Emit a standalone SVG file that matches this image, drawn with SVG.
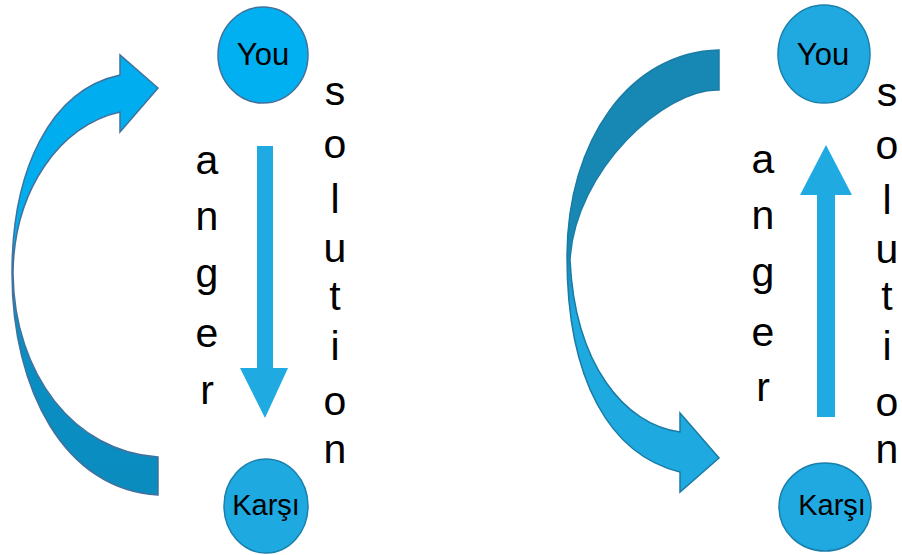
<svg xmlns="http://www.w3.org/2000/svg" width="902" height="555" viewBox="0 0 902 555">
  <style>
    .lbl { font-family: "Liberation Sans", Arial, sans-serif; fill: #000; text-anchor: middle; }
    .big { font-size: 41px; }
    .you { font-size: 31px; }
    .karsi { font-size: 29px; }
    .straight { fill: #1FABE2; stroke: none; }
  </style>
  <defs>
    <linearGradient id="gLeft" gradientUnits="userSpaceOnUse" x1="0" y1="55" x2="0" y2="495">
      <stop offset="0.45" stop-color="#00AEEF"/>
      <stop offset="0.6" stop-color="#0A8FC3"/>
      <stop offset="1" stop-color="#0A8CBF"/>
    </linearGradient>
    <linearGradient id="gRight" gradientUnits="userSpaceOnUse" x1="0" y1="50" x2="0" y2="492">
      <stop offset="0" stop-color="#1788B4"/>
      <stop offset="0.46" stop-color="#1788B4"/>
      <stop offset="0.6" stop-color="#1EA9DF"/>
      <stop offset="1" stop-color="#1EAAE0"/>
    </linearGradient>
  </defs>

  <g id="connectors">
    <path id="curve-left" d="M158,495 L158,457 C75,452 14,375 13,273 C14,190 60,125 120,112 L120,132 L158,88 L120,55 L120,75 C50,90 12,170 12,273 C12,390 65,490 158,495 Z" fill="url(#gLeft)" stroke="#41719C" stroke-width="1.5" stroke-linejoin="miter"/>
    <path id="curve-right" d="M719,50 L719,90 C665,88 575,170 570,260 C575,365 625,425 680,432 L680,413 L719,458 L680,492 L680,472 C610,455 567,380 567,257 C567,140 630,52 719,50 Z" fill="url(#gRight)" stroke="#1A7BA5" stroke-width="1.5"/>
    <path id="down-arrow" class="straight" d="M257,146 L273,146 L273,368 L288,368 L265,418 L240,368 L257,368 Z"/>
    <path id="up-arrow" class="straight" d="M817,417 L835,417 L835,195 L852,195 L826,145 L800,195 L817,195 Z"/>
  </g>

  <g id="you-left">
    <ellipse cx="263" cy="55" rx="45" ry="48" fill="#00B0F0" stroke="#41719C" stroke-width="1.5"/>
    <text class="lbl you" x="263" y="65">You</text>
  </g>
  <g id="karsi-left">
    <ellipse cx="266" cy="506" rx="42" ry="47" fill="#1FA9E1" stroke="#1A80AC" stroke-width="1.5"/>
    <text class="lbl karsi" x="266" y="515">Karşı</text>
  </g>
  <g id="you-right">
    <ellipse cx="824" cy="54" rx="46" ry="49" fill="#1FA9E0" stroke="#1A80AC" stroke-width="1.5"/>
    <text class="lbl you" x="823" y="65">You</text>
  </g>
  <g id="karsi-right">
    <ellipse cx="825" cy="507" rx="46" ry="44" fill="#1FA9E0" stroke="#1A80AC" stroke-width="1.5"/>
    <text class="lbl karsi" x="832" y="515">Karşı</text>
  </g>

  <g id="labels">
    <text class="lbl big"><tspan x="207" y="174">a</tspan><tspan x="207" y="230">n</tspan><tspan x="207" y="287">g</tspan><tspan x="207" y="347">e</tspan><tspan x="207" y="404">r</tspan></text>
    <text class="lbl big"><tspan x="335" y="105">s</tspan><tspan x="335" y="158">o</tspan><tspan x="335" y="213">l</tspan><tspan x="335" y="262">u</tspan><tspan x="335" y="310">t</tspan><tspan x="335" y="360">i</tspan><tspan x="335" y="415">o</tspan><tspan x="335" y="463">n</tspan></text>
    <text class="lbl big"><tspan x="763" y="173">a</tspan><tspan x="763" y="229">n</tspan><tspan x="763" y="286">g</tspan><tspan x="763" y="346">e</tspan><tspan x="763" y="401">r</tspan></text>
    <text class="lbl big"><tspan x="887" y="106">s</tspan><tspan x="887" y="159">o</tspan><tspan x="887" y="214">l</tspan><tspan x="887" y="263">u</tspan><tspan x="887" y="310">t</tspan><tspan x="887" y="360">i</tspan><tspan x="887" y="416">o</tspan><tspan x="887" y="463">n</tspan></text>
  </g>
</svg>
